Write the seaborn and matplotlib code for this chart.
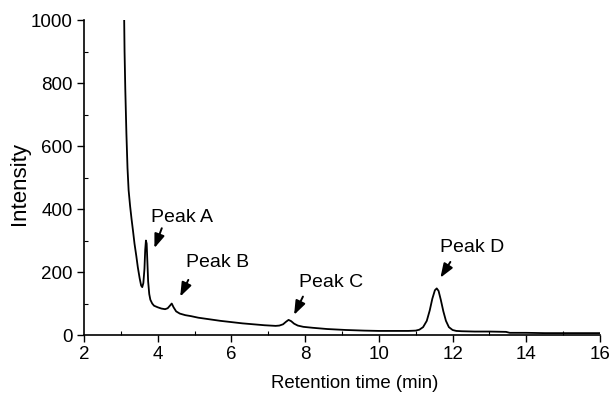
import matplotlib
matplotlib.use("Agg")
import matplotlib.pyplot as plt
import seaborn as sns
import pandas as pd
from matplotlib.ticker import MultipleLocator

# Chromatogram trace
time_min = [3.09, 3.10, 3.12, 3.15, 3.18, 3.21, 3.25, 3.29, 3.33, 3.37, 3.42, 3.46, 3.51, 3.55,
            3.58, 3.61, 3.64, 3.66, 3.68, 3.70, 3.72, 3.74, 3.77, 3.80, 3.85, 3.90, 4.00,
            4.10, 4.20, 4.27, 4.33, 4.38, 4.43, 4.50, 4.60, 4.75, 4.90, 5.10, 5.40, 5.70,
            6.00, 6.30, 6.60, 6.90, 7.20, 7.30, 7.40, 7.48, 7.55, 7.62, 7.70, 7.80, 7.95,
            8.20, 8.60, 9.10, 9.60, 10.00, 10.40, 10.80, 11.00, 11.10, 11.20, 11.30, 11.38,
            11.45, 11.52, 11.57, 11.62, 11.68, 11.75, 11.82, 11.90, 12.00, 12.10, 12.25,
            12.60, 13.00, 13.45, 13.55, 14.00, 14.50, 15.00, 15.50, 16.00]
intensity = [1000, 900, 780, 640, 530, 460, 410, 368, 330, 290, 250, 215, 180, 157,
             152, 165, 210, 270, 300, 290, 230, 170, 130, 112, 100, 93, 88,
             84, 82, 85, 93, 100, 88, 75, 68, 63, 60, 55, 50, 45,
             41, 37, 34, 31, 29, 30, 34, 42, 48, 44, 36, 30, 26,
             23, 19, 16, 14, 13, 13, 13, 14, 17, 25, 45, 78,
             115, 142, 148, 140, 112, 75, 45, 25, 16, 13, 12,
             11, 11, 10, 7, 7, 6, 6, 6, 6]

# Peak annotations: label, label position, arrow tail, arrow head
peak_labels = ["Peak A", "Peak B", "Peak C", "Peak D"]
label_x = [4.65, 5.61, 8.70, 12.54]
label_y = [374, 231, 167, 278]
tail_x = [4.11, 4.83, 7.94, 11.94]
tail_y = [339, 175, 122, 232]
head_x = [3.91, 4.61, 7.70, 11.67]
head_y = [276, 122, 64, 182]

x_ticks = [2, 4, 6, 8, 10, 12, 14, 16]
y_ticks = [0, 200, 400, 600, 800, 1000]

sns.set_theme(style="white")
plt.rcParams['font.family'] = ['Liberation Sans', 'DejaVu Sans']

fig = plt.figure(figsize=(6.11, 3.94), dpi=100)
ax = fig.add_axes([0.1375, 0.1497, 0.8445, 0.7995])

df = pd.DataFrame({"t": time_min, "i": intensity})
sns.lineplot(data=df, x="t", y="i", color="black", linewidth=1.3,
             estimator=None, sort=False, ax=ax)

ax.set_xlim(2, 16)
ax.set_ylim(0, 1000)
ax.set_xticks(x_ticks)
ax.set_yticks(y_ticks)
ax.xaxis.set_minor_locator(MultipleLocator(1))
ax.yaxis.set_minor_locator(MultipleLocator(100))
ax.tick_params(which="major", direction="out", length=5, width=1, labelsize=13.5,
               colors="black", pad=3, left=True, bottom=True)
ax.tick_params(which="minor", direction="in", length=3, width=0.8,
               colors="black", left=True, bottom=True)
for s in ["top", "right"]:
    ax.spines[s].set_visible(False)
for s in ["left", "bottom"]:
    ax.spines[s].set_color("black")
    ax.spines[s].set_linewidth(1.2)

ax.set_xlabel("")
ax.set_ylabel("")
fig.text(355 / 611, 1 - 383 / 394, "Retention time (min)", ha="center", va="center",
         fontsize=13.4, color="black")
fig.text(20 / 611, 1 - 183.5 / 394, "Intensity", ha="center", va="center",
         rotation=90, fontsize=16, color="black")

for lab, lx, ly, tx, ty, hx, hy in zip(peak_labels, label_x, label_y, tail_x, tail_y, head_x, head_y):
    ax.text(lx, ly, lab, ha="center", va="center", fontsize=14, color="black")
    ax.annotate("", xy=(hx, hy), xytext=(tx, ty),
                arrowprops=dict(arrowstyle="-|>,head_length=0.7,head_width=0.26",
                                color="black", lw=1.4, shrinkA=0, shrinkB=0))

fig.savefig("out.png", dpi=100)
